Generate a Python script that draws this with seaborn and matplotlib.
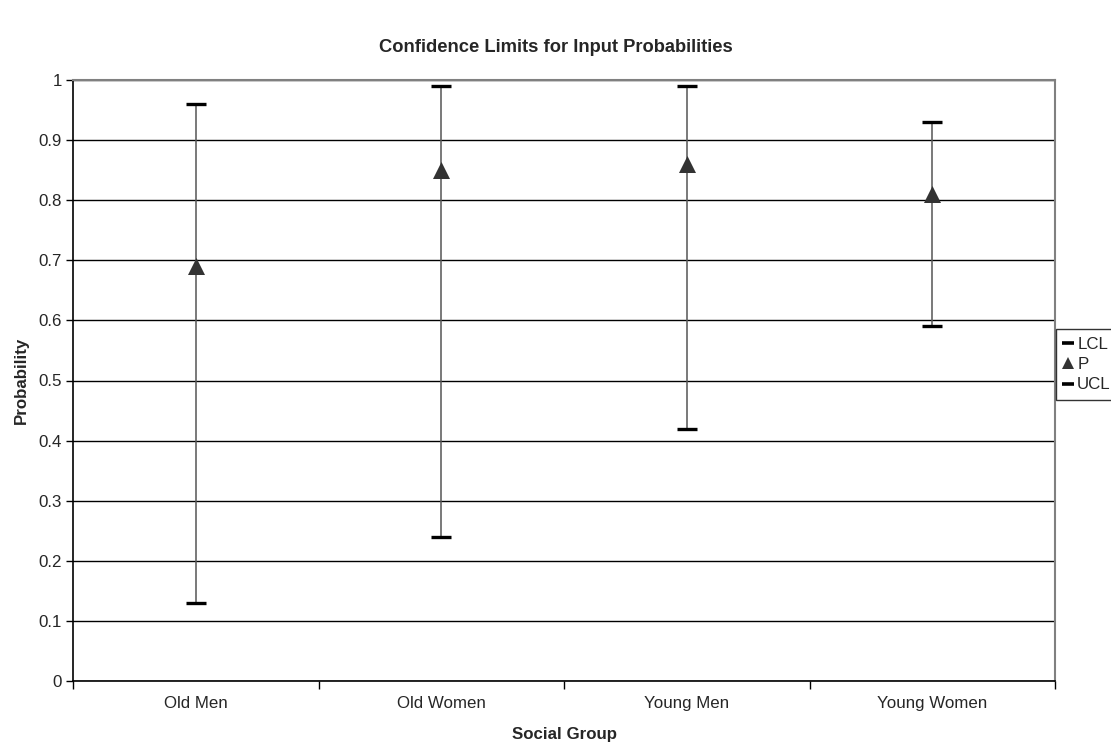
import matplotlib
matplotlib.use("Agg")
import matplotlib.pyplot as plt
import seaborn as sns
import pandas as pd
import numpy as np
from matplotlib.lines import Line2D

groups = ["Old Men", "Old Women", "Young Men", "Young Women"]
lcl = [0.13, 0.24, 0.42, 0.59]
p = [0.69, 0.85, 0.86, 0.81]
ucl = [0.96, 0.99, 0.99, 0.93]

sns.set_style("white")
plt.rcParams['font.family'] = ['Liberation Sans', 'DejaVu Sans']

fig = plt.figure(figsize=(11.11, 7.46), dpi=100)
ax = fig.add_axes([73/1111, 65/746, (1055-73)/1111, (681-80)/746])

pos = np.arange(len(groups))
df = pd.DataFrame({"x": pos, "LCL": lcl, "P": p, "UCL": ucl})

# gridlines
ax.set_ylim(0, 1)
ax.set_xlim(-0.5, len(groups) - 0.5)
ax.set_yticks(np.round(np.arange(0, 1.01, 0.1), 1))
ax.set_yticklabels(["0"] + [f"{v:.1f}" for v in np.arange(0.1, 0.95, 0.1)] + ["1"])
ax.yaxis.grid(True, color="black", linewidth=1)
ax.set_axisbelow(True)

# high-low lines
ax.vlines(df["x"], df["LCL"], df["UCL"], color="#555555", linewidth=1.1, zorder=2)

sns.scatterplot(data=df, x="x", y="LCL", marker="_", s=190, linewidth=2.4,
                color="black", ax=ax, zorder=3, legend=False)
sns.scatterplot(data=df, x="x", y="UCL", marker="_", s=190, linewidth=2.4,
                color="black", ax=ax, zorder=3, legend=False)
sns.scatterplot(data=df, x="x", y="P", marker="^", s=150, linewidth=0,
                color="#333333", ax=ax, zorder=4, legend=False)

# x ticks at category boundaries, labels at centers
ax.set_xticks(np.arange(-0.5, len(groups), 1.0))
ax.set_xticklabels([])
ax.set_xticks(pos, minor=True)
ax.set_xticklabels(groups, minor=True)
ax.tick_params(axis="x", which="major", direction="out", length=6, width=1, color="black")
ax.tick_params(axis="x", which="minor", length=0, pad=11, labelsize=12.2)
ax.tick_params(axis="y", direction="out", length=5, width=1, color="black", labelsize=12.2, pad=3)
ax.tick_params(left=True, bottom=True)

for s in ["left", "bottom"]:
    ax.spines[s].set_color("black")
    ax.spines[s].set_linewidth(1.2)
for s in ["top", "right"]:
    ax.spines[s].set_color("#808080")
    ax.spines[s].set_linewidth(1.5)

ax.set_xlabel("Social Group", fontsize=12.2, fontweight="bold", labelpad=11)
ax.set_ylabel("Probability", fontsize=12.2, fontweight="bold", labelpad=7)
fig.text(0.5, 1 - 47/746, "Confidence Limits for Input Probabilities",
         ha="center", va="center", fontsize=13.2, fontweight="bold")

handles = [
    Line2D([], [], marker="_", color="black", linestyle="none", markersize=8, markeredgewidth=2.6),
    Line2D([], [], marker="^", color="#333333", linestyle="none", markersize=9, markeredgewidth=0),
    Line2D([], [], marker="_", color="black", linestyle="none", markersize=8, markeredgewidth=2.6),
]
leg = fig.legend(handles, ["LCL", "P", "UCL"], loc="upper left",
                 bbox_to_anchor=(1056/1111, 1 - 329/746), frameon=True, fancybox=False,
                 edgecolor="black", fontsize=12.2, handlelength=0.55, handletextpad=0.25,
                 borderpad=0.45, labelspacing=0.32, borderaxespad=0)
leg.get_frame().set_linewidth(1)

fig.savefig("out.png", dpi=100)
